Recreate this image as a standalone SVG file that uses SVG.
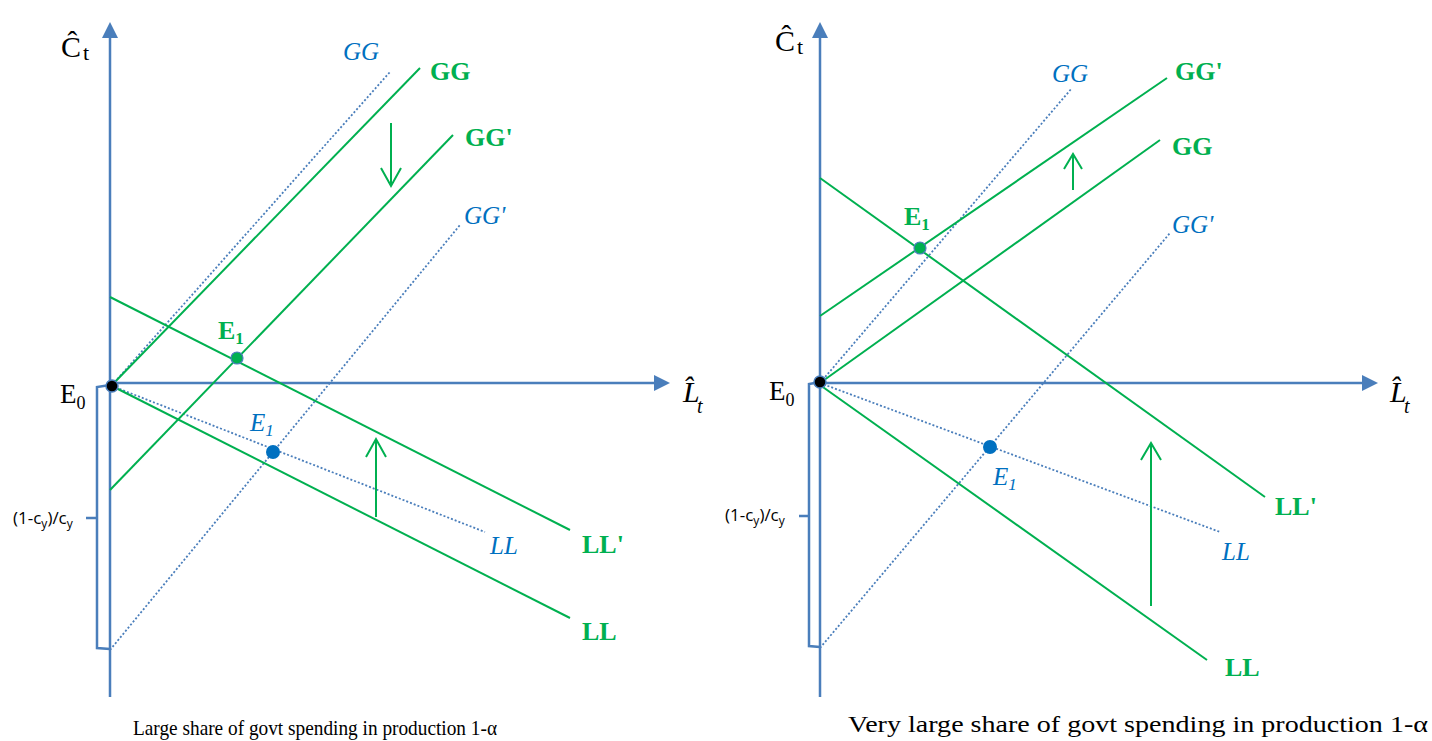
<svg xmlns="http://www.w3.org/2000/svg" width="1432" height="741" viewBox="0 0 1432 741">
<style>
.axis{stroke:#4a7ebb;stroke-width:2.5;fill:none}
.br{stroke:#4a7ebb;stroke-width:2.5;fill:none}
.g{stroke:#00b050;stroke-width:2;fill:none}
.d{stroke:#4a7ebb;stroke-width:1.8;fill:none;stroke-dasharray:2 2}
.ga{stroke:#00b050;stroke-width:2;fill:none}
.t{font-family:"Liberation Serif",serif;fill:#000}
.gl{font-family:"Liberation Serif",serif;font-weight:bold;fill:#00b050;font-size:26px}
.bl{font-family:"Liberation Serif",serif;font-style:italic;fill:#0070c0;font-size:25px}
.s{font-family:"Open Sans","Liberation Sans",sans-serif;fill:#000;font-size:17px}
.cap{font-family:"Liberation Serif",serif;fill:#000}
</style>

<!-- LEFT PANEL -->
<g id="left-axes">
<line class="axis" x1="110" y1="697" x2="110" y2="36"/>
<path d="M102,38 L110,22 L118,38 z" fill="#4a7ebb"/>
<line class="axis" x1="110" y1="383" x2="656" y2="383"/>
<path d="M654,375 L670,383 L654,391 z" fill="#4a7ebb"/>
<path class="br" d="M110,385 L97,387 L97,648 L110,649 M97,518 L86,518"/>
</g>
<g id="left-labels">
<text class="t" x="61" y="57" font-size="30">Ĉ</text>
<text class="t" x="83" y="60" font-size="22">t</text>
<text class="t" x="683" y="402" font-size="30" font-style="italic">L̂</text>
<text class="t" x="697" y="413" font-size="20" font-style="italic">t</text>
<text class="t" x="60" y="403" font-size="27">E<tspan font-size="18" dy="6">0</tspan></text>
<text class="s" x="13" y="524">(1-c<tspan font-size="12" dy="4">y</tspan><tspan dy="-4">)/c</tspan><tspan font-size="12" dy="4">y</tspan></text>
<text class="cap" x="133" y="735" font-size="21" textLength="364" lengthAdjust="spacingAndGlyphs">Large share of govt spending in production 1-α</text>
</g>
<g id="left-connectors">
<line class="d" x1="112" y1="385" x2="390" y2="72"/>
<line class="d" x1="110" y1="650" x2="460" y2="225"/>
<line class="d" x1="112" y1="386" x2="485" y2="532"/>
<line class="g" x1="112" y1="385" x2="420" y2="68"/>
<line class="g" x1="110" y1="490" x2="453" y2="135"/>
<line class="g" x1="110" y1="297" x2="570" y2="530"/>
<line class="g" x1="112" y1="386" x2="570" y2="618"/>
<path class="ga" d="M391,123 L391,186 M381,168 L391,186 L401,168"/>
<path class="ga" d="M376,517 L376,439 M366,457 L376,439 L386,457"/>
</g>
<g id="left-nodes">
<circle cx="112" cy="386" r="6" fill="#000" stroke="#4a7ebb" stroke-width="1.5"/>
<circle cx="237" cy="358" r="6" fill="#00b050" stroke="#4a7ebb" stroke-width="1.2"/>
<circle cx="273" cy="452" r="7" fill="#0070c0"/>
<text class="gl" x="218" y="339">E<tspan font-size="17" dy="5">1</tspan></text>
<text class="bl" x="250" y="431">E<tspan font-size="17" dy="5">1</tspan></text>
<text class="bl" x="343" y="60">GG</text>
<text class="bl" x="464" y="224">GG'</text>
<text class="bl" x="490" y="554">LL</text>
<text class="gl" x="430" y="80">GG</text>
<text class="gl" x="465" y="146">GG'</text>
<text class="gl" x="582" y="553">LL'</text>
<text class="gl" x="582" y="640">LL</text>
</g>

<!-- RIGHT PANEL -->
<g id="right-axes">
<line class="axis" x1="820" y1="697" x2="820" y2="36"/>
<path d="M812,38 L820,22 L828,38 z" fill="#4a7ebb"/>
<line class="axis" x1="820" y1="383" x2="1364" y2="383"/>
<path d="M1362,375 L1378,383 L1362,391 z" fill="#4a7ebb"/>
<path class="br" d="M820,382 L809,384 L809,646 L820,647 M809,516 L799,516"/>
</g>
<g id="right-labels">
<text class="t" x="775" y="51" font-size="30">Ĉ</text>
<text class="t" x="797" y="54" font-size="22">t</text>
<text class="t" x="1390" y="402" font-size="30" font-style="italic">L̂</text>
<text class="t" x="1404" y="413" font-size="20" font-style="italic">t</text>
<text class="t" x="769" y="400" font-size="27">E<tspan font-size="18" dy="6">0</tspan></text>
<text class="s" x="725" y="521">(1-c<tspan font-size="12" dy="4">y</tspan><tspan dy="-4">)/c</tspan><tspan font-size="12" dy="4">y</tspan></text>
<text class="cap" x="848" y="732" font-size="24" textLength="580" lengthAdjust="spacingAndGlyphs">Very large share of govt spending in production 1-α</text>
</g>
<g id="right-connectors">
<line class="d" x1="820" y1="383" x2="1072" y2="88"/>
<line class="d" x1="820" y1="648" x2="1170" y2="233"/>
<line class="d" x1="820" y1="383" x2="1220" y2="532"/>
<line class="g" x1="820" y1="316" x2="1167" y2="78"/>
<line class="g" x1="820" y1="383" x2="1160" y2="140"/>
<line class="g" x1="820" y1="178" x2="1265" y2="497"/>
<line class="g" x1="820" y1="385" x2="1207" y2="660"/>
<path class="ga" d="M1073,190 L1073,154 M1064,169 L1073,154 L1082,169"/>
<path class="ga" d="M1151,606 L1151,443 M1141,460 L1151,443 L1161,460"/>
</g>
<g id="right-nodes">
<circle cx="820" cy="382" r="6" fill="#000" stroke="#4a7ebb" stroke-width="1.5"/>
<circle cx="920" cy="248" r="6" fill="#00b050" stroke="#4a7ebb" stroke-width="1.2"/>
<circle cx="990" cy="447" r="7" fill="#0070c0"/>
<text class="gl" x="904" y="225">E<tspan font-size="17" dy="5">1</tspan></text>
<text class="bl" x="993" y="485">E<tspan font-size="17" dy="5">1</tspan></text>
<text class="bl" x="1052" y="82">GG</text>
<text class="bl" x="1172" y="233">GG'</text>
<text class="bl" x="1222" y="560">LL</text>
<text class="gl" x="1175" y="80">GG'</text>
<text class="gl" x="1172" y="155">GG</text>
<text class="gl" x="1275" y="515">LL'</text>
<text class="gl" x="1225" y="676">LL</text>
</g>
</svg>
